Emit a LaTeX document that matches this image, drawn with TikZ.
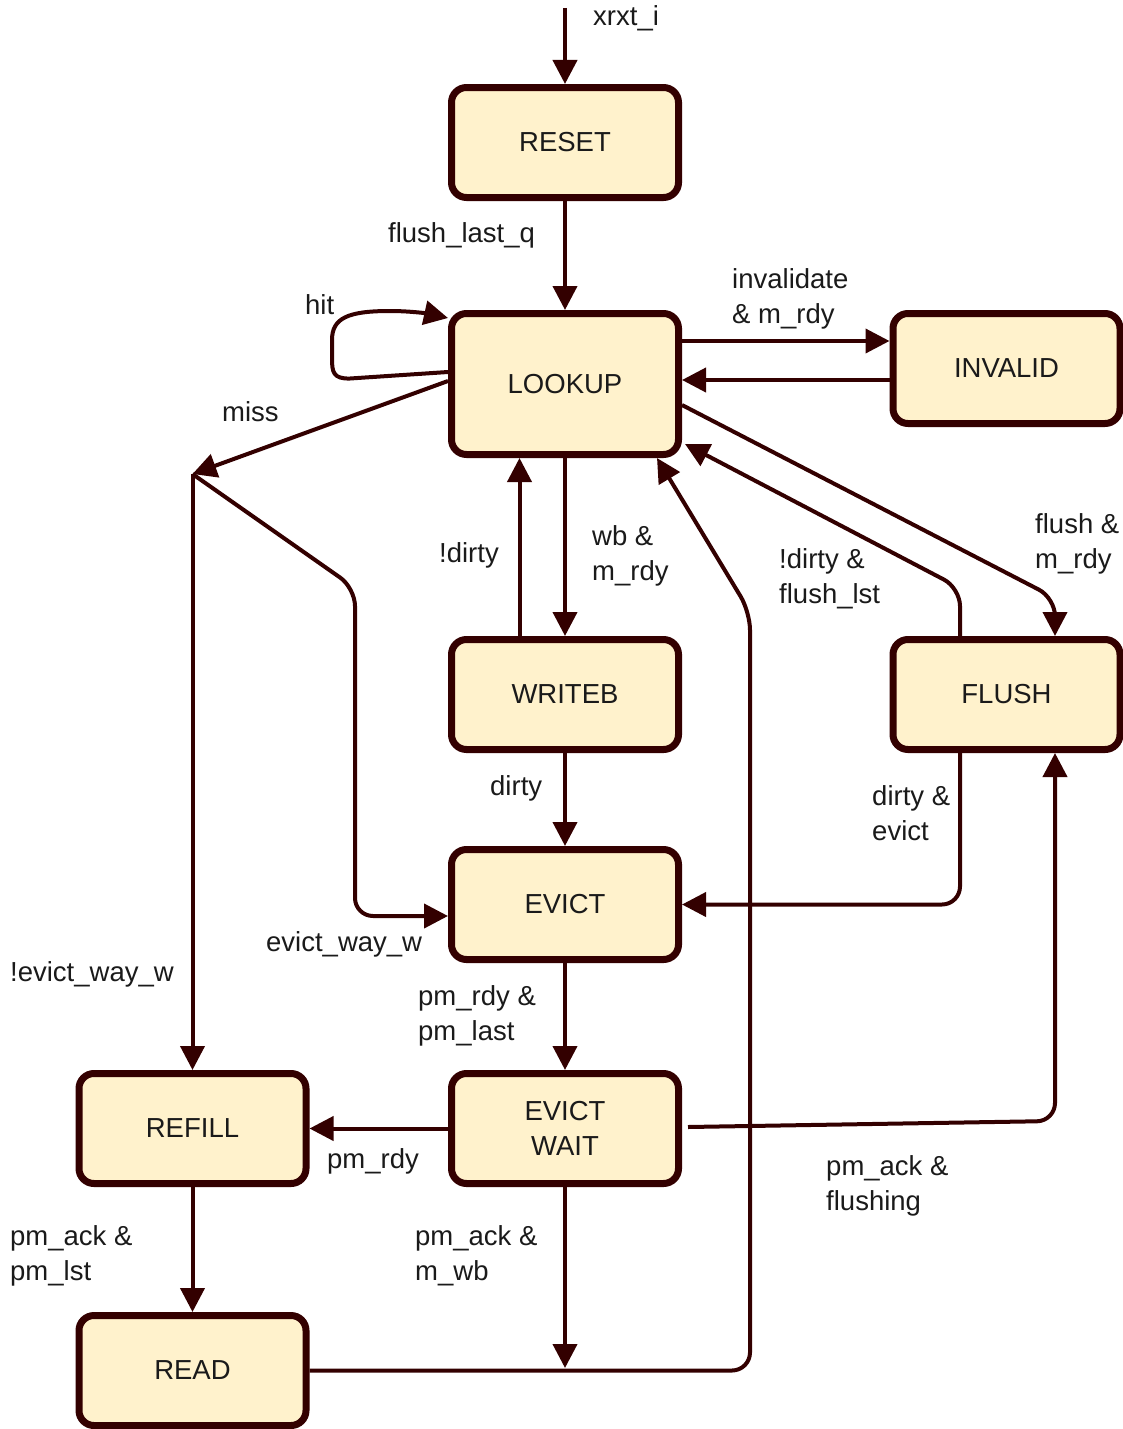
\documentclass[tikz,border=0pt]{standalone}
\usepackage{fontspec}
\setmainfont{Liberation Sans}
\usetikzlibrary{arrows.meta}
\definecolor{edgec}{HTML}{330000}
\definecolor{statefill}{HTML}{FFF2CC}
\definecolor{txt}{HTML}{1A1A1A}
\begin{document}
\begin{tikzpicture}[x=1pt,y=-1pt,
  font=\fontsize{27.5}{35}\selectfont, text=txt,
  state/.style={draw=edgec, fill=statefill, line width=7pt, rounded corners=15pt,
    minimum width=227pt, minimum height=110pt, inner sep=0pt, align=center},
  link/.style={draw=edgec, line width=4pt, rounded corners=18pt,
    -{Triangle[length=24pt,width=24pt]}},
  lbl/.style={anchor=west, align=left, inner sep=0pt}]
\useasboundingbox (0,0) rectangle (1123,1429);

% states
\node[state] (reset)  at (565,142.5)  {RESET};
\node[state, minimum height=141pt] (lookup) at (565,384) {LOOKUP};
\node[state] (invalid) at (1006.5,368.5) {INVALID};
\node[state] (writeb) at (565,694.5) {WRITEB};
\node[state] (flush)  at (1006.5,694.5) {FLUSH};
\node[state] (evict)  at (565,904.5) {EVICT};
\node[state] (ewait)  at (565,1128.5) {EVICT\\WAIT};
\node[state] (refill) at (192.5,1128.5) {REFILL};
\node[state] (read)   at (192.5,1370.5) {READ};

% free ends
\coordinate (init)  at (565,8);
\coordinate (split) at (192.5,474);
\coordinate (merge) at (565,1368);

% transitions
\draw[link] (init) -- (reset.north);
\draw[link] (reset.south) -- (lookup.north);
\draw[link, sharp corners] ([yshift=12pt]lookup.west) -- (350,378.5)
  .. controls (333,379) and (332,372) .. (332,358) -- (332,340)
  .. controls (332,318) and (348,311) .. (390,311)
  .. controls (412,311) and (430,314) .. ([yshift=66pt]lookup.west);
\draw[link] ([yshift=3pt]lookup.west) -- (split);
\draw[link] (split) -- (refill.north);
\draw[link] (split) -- (355,588) -- (355,916) -- ([yshift=-11.5pt]evict.west);
\draw[link] ([yshift=43pt]lookup.east) -- ([yshift=27.5pt]invalid.west);
\draw[link] ([yshift=-11.5pt]invalid.west) -- ([yshift=4pt]lookup.east);
\draw[link] (lookup.south) -- (writeb.north);
\draw[link] ([xshift=-45.5pt]writeb.north) -- ([xshift=-45.5pt]lookup.south);
\draw[link] ([yshift=-21pt]lookup.east) -- (1055,598) -- ([xshift=48.5pt]flush.north);
\draw[link] ([xshift=-46.5pt]flush.north) -- (960,588) -- ([yshift=-60pt,xshift=3pt]lookup.east);
\draw[link] (read.east) -- (750,1370.5) -- (750,612) -- ([xshift=92pt]lookup.south);
\draw[link] (writeb.south) -- (evict.north);
\draw[link] ([xshift=-46.5pt]flush.south) -- (960,904.5) -- (evict.east);
\draw[link] (evict.south) -- (ewait.north);
\draw[link] (ewait.west) -- (refill.east);
\draw[link] ([xshift=6pt,yshift=1.5pt]ewait.east) -- (1055,1121) -- ([xshift=48.5pt]flush.south);
\draw[link] (ewait.south) -- (merge);
\draw[link] (refill.south) -- (read.north);

% transition conditions
\node[lbl] (l1)  at (593,18)   {xrxt\_i};
\node[lbl] (l2)  at (388,235)  {flush\_last\_q};
\node[lbl] (l3)  at (305,305)  {hit};
\node[lbl] (l4)  at (222,412)  {miss};
\node[lbl] (l5)  at (732,299)  {invalidate\\\& m\_rdy};
\node[lbl] (l6)  at (439,555)  {!dirty};
\node[lbl] (l7)  at (592,556)  {wb \&\\m\_rdy};
\node[lbl] (l8)  at (779,579)  {!dirty \&\\flush\_lst};
\node[lbl] (l9)  at (1035,544) {flush \&\\m\_rdy};
\node[lbl] (l10) at (490,788)  {dirty};
\node[lbl] (l11) at (872,813)  {dirty \&\\evict};
\node[lbl] (l12) at (266,944)  {evict\_way\_w};
\node[lbl] (l13) at (10,974)   {!evict\_way\_w};
\node[lbl] (l14) at (418,1016) {pm\_rdy \&\\pm\_last};
\node[lbl] (l15) at (327,1161) {pm\_rdy};
\node[lbl] (l16) at (826,1186) {pm\_ack \&\\flushing};
\node[lbl] (l17) at (10,1256)  {pm\_ack \&\\pm\_lst};
\node[lbl] (l18) at (415,1256) {pm\_ack \&\\m\_wb};
\end{tikzpicture}
\end{document}
